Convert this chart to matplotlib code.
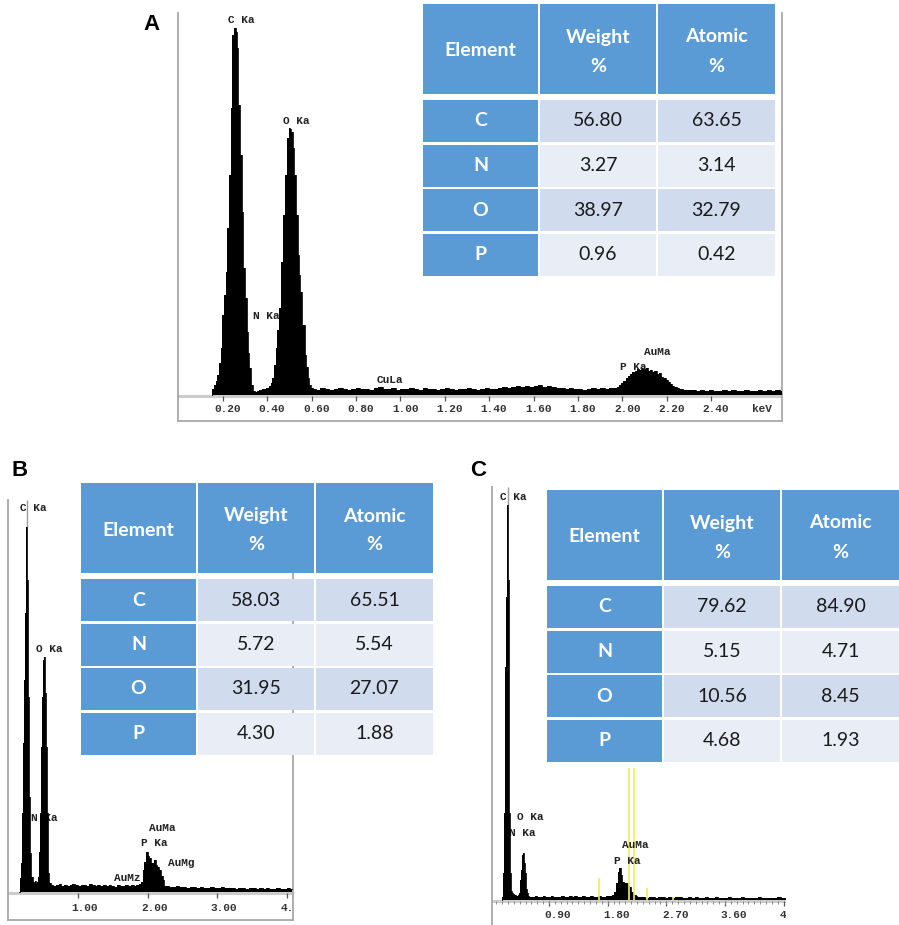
import matplotlib.pyplot as plt
import numpy as np
from matplotlib.patches import Rectangle

W, H = 899, 925

# ---------------- table data ----------------
ELEMENTS = ["C", "N", "O", "P"]
WEIGHT_A = [56.80, 3.27, 38.97, 0.96]
ATOMIC_A = [63.65, 3.14, 32.79, 0.42]
WEIGHT_B = [58.03, 5.72, 31.95, 4.30]
ATOMIC_B = [65.51, 5.54, 27.07, 1.88]
WEIGHT_C = [79.62, 5.15, 10.56, 4.68]
ATOMIC_C = [84.90, 4.71, 8.45, 1.93]

# ---------------- spectrum A (keV, counts) ----------------
A_LOW_KEV = [0.150, 0.158, 0.165, 0.173, 0.180, 0.188, 0.195, 0.203, 0.210, 0.218,
             0.225, 0.233, 0.240, 0.248, 0.255, 0.263, 0.268, 0.273, 0.281, 0.290,
             0.297, 0.305, 0.312, 0.318, 0.323, 0.333, 0.342, 0.350, 0.360, 0.370,
             0.380, 0.390, 0.400, 0.413, 0.420, 0.428, 0.435, 0.443, 0.450, 0.458,
             0.469, 0.478, 0.485, 0.493, 0.500, 0.505, 0.511, 0.518, 0.526, 0.533,
             0.541, 0.547, 0.553, 0.563, 0.574, 0.580, 0.586, 0.593, 0.601]
A_LOW_CNT = [0, 6, 10, 14, 20, 32, 47, 80, 100, 123,
             167, 220, 287, 360, 367, 363, 347, 290, 240, 183,
             127, 97, 63, 42, 27, 10, 4, 3, 4, 5,
             6, 6, 7, 9, 12, 17, 30, 47, 65, 87,
             133, 180, 220, 257, 267, 266, 263, 247, 220, 180,
             140, 120, 103, 70, 40, 28, 17, 10, 7]
A_BG_CNT = [6, 5, 7, 6, 5, 6, 7, 6, 5, 6, 7, 6, 6, 5, 7, 8, 6, 6, 7, 5,
            6, 6, 7, 6, 5, 7, 6, 6, 5, 6, 7, 6, 5, 6, 6, 7, 6, 5, 6, 7,
            6, 6, 7, 8, 7, 8, 9, 8, 9, 8, 9, 10, 8, 9, 8, 7, 7, 6, 7, 6,
            6, 5, 6, 7, 6, 7, 6, 7]                      # 0.61 - 1.95 keV
A_AU_CNT = [7, 8, 10, 12, 14, 17, 19, 21, 23, 24, 26, 25, 27, 26, 27, 24, 25,
            23, 24, 21, 22, 18, 17, 15, 13, 11, 9, 8, 7, 6, 6, 5, 5, 5]  # 1.97 - 2.30
A_TAIL_CNT = [5, 4, 5, 4, 5, 4, 4, 5, 4, 5, 4, 4, 5, 4, 4, 5, 4, 5, 4, 5, 4]  # 2.32 - 2.72

# ---------------- spectrum B ----------------
B_LOW_KEV = [0.156, 0.165, 0.178, 0.190, 0.204, 0.213, 0.228, 0.242, 0.252, 0.262,
             0.276, 0.290, 0.305, 0.319, 0.338, 0.357, 0.370, 0.385, 0.400, 0.415,
             0.429, 0.441, 0.453, 0.472, 0.487, 0.501, 0.511, 0.525, 0.540, 0.554,
             0.573, 0.597]
B_LOW_CNT = [0, 5, 14, 29, 79, 149, 212, 279, 335, 365,
             312, 195, 95, 39, 15, 10, 9, 11, 8, 10,
             15, 40, 79, 145, 195, 232, 235, 199, 145, 79,
             19, 9]
B_BG_CNT = [7, 6, 7, 8, 6, 7, 6, 7, 8, 7, 6, 7, 7, 6, 8, 7, 6, 7, 6, 7,
            6, 7, 6, 5, 7, 6, 6, 7, 6, 7, 6, 7, 8]     # 0.62 - 1.90 keV
B_AU_KEV = [1.917, 1.940, 1.964, 1.988, 2.012, 2.036, 2.060, 2.084, 2.108, 2.130,
            2.155, 2.180, 2.205, 2.230, 2.250]
B_AU_CNT = [10, 22, 30, 40, 36, 34, 29, 29, 32, 27, 25, 22, 16, 12, 6]
B_TAIL_CNT = [6, 5, 5, 6, 5, 5, 4, 5, 5, 4, 5, 4, 4, 5, 4, 4, 5, 4, 4, 4,
              3, 4, 4, 3, 4, 4, 3, 4, 3, 4, 3, 3, 4, 3, 3, 4, 3]  # 2.28 - 4.08

# ---------------- spectrum C ----------------
C_LOW_KEV = [0.175, 0.184, 0.200, 0.215, 0.225, 0.236, 0.246, 0.256, 0.267, 0.277,
             0.287, 0.297, 0.313, 0.328, 0.340, 0.353, 0.370, 0.390, 0.410, 0.430,
             0.445, 0.456, 0.466, 0.476, 0.486, 0.496, 0.506, 0.517, 0.527, 0.537,
             0.548, 0.558, 0.568, 0.585, 0.599]
C_LOW_CNT = [0, 3, 27, 87, 153, 233, 303, 370, 395, 320,
             187, 87, 27, 9, 7, 6, 5, 5, 4, 5,
             7, 12, 20, 30, 40, 45, 47, 43, 37, 27,
             17, 11, 7, 4, 3]
C_BG_CNT = [3, 3, 4, 3, 3, 4, 3, 3, 4, 3, 3, 3, 4, 3, 3, 4, 3, 4, 3, 3,
            4, 3, 3, 4, 3, 3, 4, 3, 3, 4, 4, 5]         # 0.62 - 1.88 keV
C_AU_KEV = [1.913, 1.938, 1.964, 1.989, 2.015, 2.040, 2.066, 2.092, 2.117, 2.143,
            2.168, 2.194, 2.219, 2.245, 2.270]
C_AU_CNT = [8, 17, 28, 32, 25, 18, 17, 17, 15, 13, 8, 6, 5, 4, 3]
C_TAIL_CNT = [3, 3, 2, 3, 3, 2, 3, 3, 2, 3, 2, 3, 3, 2, 2, 3, 2, 3, 2, 2,
              3, 2, 2, 3, 2, 2, 2, 3, 2, 2, 2, 3, 2, 2, 2, 2, 3, 2, 2, 2,
              2, 2, 3, 2, 2]                            # 2.30 - 4.53 keV
C_MARK_KEV = [1.67, 2.13, 2.21, 2.41, 2.80]             # yellow markers
C_MARK_CNT = [22, 132, 132, 12, 3]

BLUE = "#5b9bd5"
SHADE = ["#d0dbee", "#e9eef6"]
MONO = "Liberation Mono"


def px_axes(fig, left, top, right, bottom):
    return fig.add_axes([left / W, 1 - bottom / H, (right - left) / W, (bottom - top) / H])


def grid(start, stop, counts):
    return list(np.linspace(start, stop, len(counts)))


def spectrum_panel(fig, frame, x0, ppk, base, kev, cnt, ticks, shift, lab_h,
                   labels, minor=None, hide=("top",)):
    left, top, right, bottom = frame
    ax = px_axes(fig, left, top, right, bottom)
    ax.set_xlim((left - x0) / ppk, (right - x0) / ppk)
    ax.set_ylim(base - bottom, base - top)
    ax.set_xticks([])
    ax.set_yticks([])
    for s in ("left", "right", "bottom", "top"):
        ax.spines[s].set_color("#a8a8a8")
        ax.spines[s].set_linewidth(1.3)
        ax.spines[s].set_visible(s not in hide)

    ax.axhline(-0.5, color="#cccccc", lw=2.2, zorder=1)
    ax.vlines(ticks, -6, -1, color="#555555", lw=0.9, zorder=2)
    if minor is not None:
        ax.vlines(minor, -4, -1, color="#888888", lw=0.7, zorder=2)
    for t in ticks:
        ax.text(t + shift, lab_h, f"{t:.2f}", ha="center", va="center", fontsize=8,
                family=MONO, weight="bold", color="#333333", clip_on=True)

    ax.fill_between(kev, cnt, 0, step="mid", color="black", lw=0, zorder=3)
    ax.step(kev, cnt, where="mid", color="black", lw=0.6, zorder=3)

    for text, e, h, behind in labels:
        ax.text(e, h, text, ha="center", va="center", fontsize=8, family=MONO,
                weight="bold", color="#222222", zorder=2 if behind else 5)
    return ax


def draw_table(fig, left, top, weights, atomics):
    w, h = 352, 274
    ax = px_axes(fig, left, top, left + w, top + h)
    ax.set_xlim(0, w)
    ax.set_ylim(h, 0)
    ax.axis("off")
    cols = [(0, 115), (117, 233), (235, 352)]
    for x_a, x_b in cols:
        ax.add_patch(Rectangle((x_a, 0), x_b - x_a, 90, color=BLUE, lw=0))
    hdr = dict(ha="center", va="center", color="white", fontsize=14,
               family="Lato", weight="bold")
    ax.text(57.5, 47, "Element", **hdr)
    for (x_a, x_b), word in zip(cols[1:], ["Weight", "Atomic"]):
        ax.text((x_a + x_b) / 2, 33, word, **hdr)
        ax.text((x_a + x_b) / 2, 62, "%", **hdr)

    for i, el in enumerate(ELEMENTS):
        y = 96 + i * 44.5
        ax.add_patch(Rectangle((0, y), 115, 42, color=BLUE, lw=0))
        ax.text(57.5, y + 21, el, **hdr)
        for (x_a, x_b), v in zip(cols[1:], [weights[i], atomics[i]]):
            ax.add_patch(Rectangle((x_a, y), x_b - x_a, 42, color=SHADE[i % 2], lw=0))
            ax.text((x_a + x_b) / 2, y + 21, f"{v:.2f}", ha="center", va="center",
                    fontsize=14, family="Lato", color="#1a1a1a")


def main():
    fig = plt.figure(figsize=(W / 100, H / 100), dpi=100)

    # ---- panel A ----
    kev_a = A_LOW_KEV + grid(0.61, 1.95, A_BG_CNT) + grid(1.97, 2.30, A_AU_CNT) \
        + grid(2.32, 2.72, A_TAIL_CNT)
    cnt_a = A_LOW_CNT + A_BG_CNT + A_AU_CNT + A_TAIL_CNT
    ticks_a = list(np.arange(0.2, 2.41, 0.2))
    ax_a = spectrum_panel(
        fig, (178, 13, 782, 421), 178.3, 222.0, 395, kev_a, cnt_a, ticks_a, 0.022, -14,
        [("C Ka", 0.285, 375, False), ("O Ka", 0.532, 274, False),
         ("N Ka", 0.395, 79, True), ("CuLa", 0.953, 15, False),
         ("P Ka", 2.048, 28, False), ("AuMa", 2.156, 43, False)])
    ax_a.text(2.629, -14, "keV", ha="center", va="center", fontsize=8, family=MONO,
              weight="bold", color="#333333")

    # ---- panel B ----
    kev_b = B_LOW_KEV + grid(0.62, 1.90, B_BG_CNT) + B_AU_KEV + grid(2.28, 4.08, B_TAIL_CNT)
    cnt_b = B_LOW_CNT + B_BG_CNT + B_AU_CNT + B_TAIL_CNT
    ax_b = spectrum_panel(
        fig, (8, 500, 293, 920), 8.5, 69.5, 892, kev_b, cnt_b, [1.0, 2.0, 3.0, 4.0], 0.1, -16,
        [("C Ka", 0.36, 384, False), ("O Ka", 0.59, 243, False),
         ("N Ka", 0.518, 74, True), ("AuMa", 2.216, 64, False),
         ("P Ka", 2.10, 49, False), ("AuMg", 2.489, 29, False),
         ("AuMz", 1.705, 14, True)])
    ax_b.vlines([0.262], 365, 392, color="#9a9a9a", lw=1.0, zorder=2)

    # ---- panel C ----
    kev_c = C_LOW_KEV + grid(0.62, 1.88, C_BG_CNT) + C_AU_KEV + grid(2.30, 4.53, C_TAIL_CNT)
    cnt_c = C_LOW_CNT + C_BG_CNT + C_AU_CNT + C_TAIL_CNT
    ticks_c = [0.9, 1.8, 2.7, 3.6, 4.5]
    ax_c = spectrum_panel(
        fig, (492, 487, 786, 925), 490.3, 65.2, 900, kev_c, cnt_c, ticks_c, 0.14, -15,
        [("C Ka", 0.356, 403, False), ("O Ka", 0.609, 83, False),
         ("N Ka", 0.486, 67, True), ("AuMa", 2.219, 55, False),
         ("P Ka", 2.097, 39, False)],
        minor=list(np.arange(0.09, 4.5, 0.09)), hide=("top", "right", "bottom"))
    ax_c.vlines([0.267], 395, 413, color="#9a9a9a", lw=1.0, zorder=2)
    ax_c.vlines(C_MARK_KEV, 0, C_MARK_CNT, color="#f2ee55", lw=1.2, zorder=4)

    # ---- tables ----
    draw_table(fig, 423, 4, WEIGHT_A, ATOMIC_A)
    draw_table(fig, 81, 483, WEIGHT_B, ATOMIC_B)
    draw_table(fig, 547, 490, WEIGHT_C, ATOMIC_C)

    # ---- panel letters ----
    for letter, x, y in [("A", 152, 25), ("B", 20, 470), ("C", 478, 470)]:
        fig.text(x / W, 1 - y / H, letter, ha="center", va="center", fontsize=16,
                 family="Liberation Sans", weight="bold")

    fig.savefig("out.png", dpi=100, facecolor="white")
    plt.close(fig)


if __name__ == "__main__":
    main()
